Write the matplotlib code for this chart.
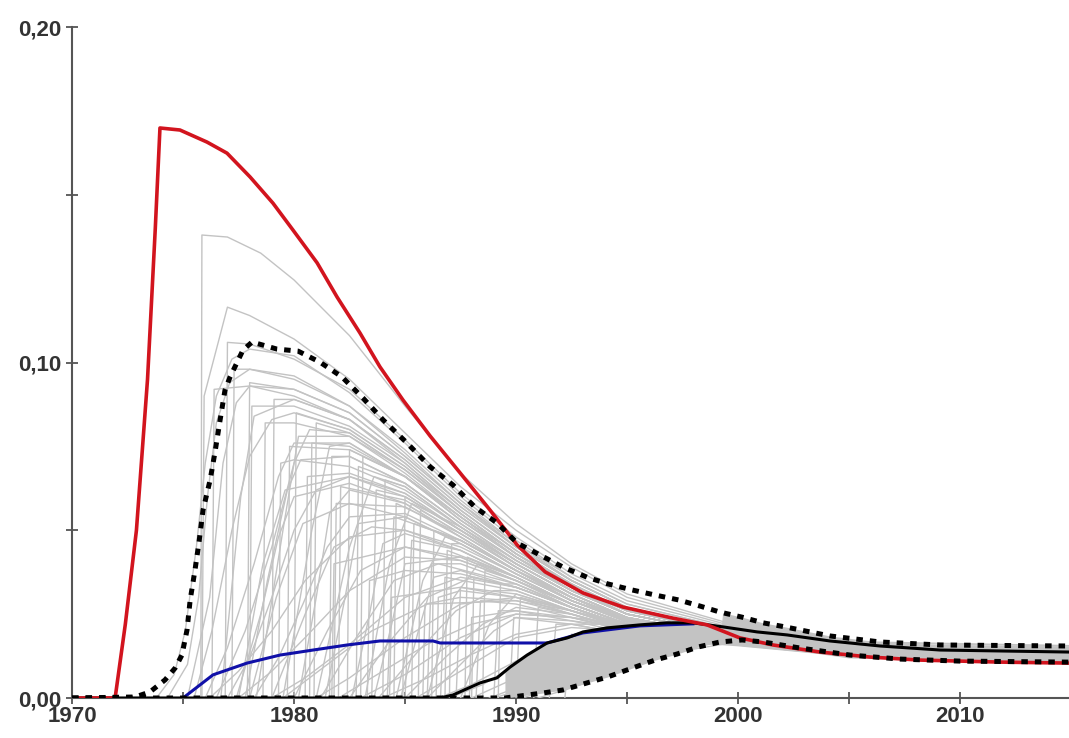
import numpy as np
import matplotlib.pyplot as plt

# red curve (highest scenario)
red_x = [1970.0, 1971.94, 1972.4, 1972.9, 1973.4, 1973.75, 1973.96, 1974.86, 1976.08, 1976.98, 1978.02,
         1979.05, 1979.95, 1981.04, 1981.94, 1982.97, 1983.87, 1984.91, 1986.13, 1987.48, 1988.83,
         1990.05, 1991.31, 1993.02, 1994.82, 1997.07, 1998.6, 2000.09, 2001.58, 2003.69, 2005.95,
         2008.2, 2011.8, 2014.91]
red_y = [0.0, 0.0, 0.022, 0.05, 0.095, 0.14, 0.1699, 0.1693, 0.1657, 0.1624, 0.1553,
         0.1475, 0.1395, 0.1297, 0.1195, 0.1088, 0.0987, 0.0888, 0.0781, 0.0671, 0.056,
         0.0456, 0.0376, 0.0313, 0.0271, 0.0238, 0.0218, 0.0179, 0.0158, 0.0137, 0.0122,
         0.0113, 0.0107, 0.0104]

# upper dashed envelope
up_x = [1970.0, 1972.84, 1973.51, 1974.19, 1974.64, 1974.95, 1975.18, 1975.32, 1975.54, 1975.72,
        1975.9, 1976.22, 1976.44, 1976.67, 1976.89, 1977.12, 1977.7, 1978.11, 1979.23, 1980.18,
        1981.17, 1982.16, 1983.11, 1984.01, 1985.09, 1986.13, 1987.16, 1988.15, 1989.14, 1990.05,
        1992.12, 1993.2, 1994.14, 1995.23, 1996.26, 1997.34, 1998.29, 1999.19, 2000.18, 2001.13,
        2002.12, 2004.14, 2006.4, 2009.1, 2014.91]
up_y = [0.0, 0.0003, 0.0018, 0.0054, 0.0089, 0.0128, 0.0203, 0.0292, 0.0382, 0.0465,
        0.056, 0.065, 0.0733, 0.0829, 0.0918, 0.0957, 0.1037, 0.1061, 0.104, 0.1034,
        0.1001, 0.0957, 0.0894, 0.0829, 0.076, 0.0689, 0.0635, 0.0569, 0.0522, 0.0462,
        0.039, 0.036, 0.034, 0.0322, 0.0307, 0.0292, 0.0274, 0.0256, 0.0241, 0.0224,
        0.0212, 0.0185, 0.0167, 0.0158, 0.0155]

# lower dashed envelope
low_x = [1970.0, 1989.5, 1991.22, 1992.12, 1993.2, 1994.14, 1995.23, 1996.26, 1997.25, 1998.2,
         1999.19, 2000.18, 2001.13, 2002.79, 2005.05, 2007.3, 2010.0, 2014.91]
low_y = [0.0, 0.0, 0.0015, 0.0024, 0.0045, 0.0063, 0.0089, 0.0113, 0.0131, 0.0152,
         0.0167, 0.0173, 0.0167, 0.0149, 0.0128, 0.0116, 0.011, 0.0107]

# black solid curve
blk_x = [1970.0, 1986.58, 1987.16, 1988.38, 1989.14, 1989.73, 1990.5, 1991.4, 1992.3, 1993.02,
         1994.1, 1995.59, 1996.8, 1997.97, 1999.32, 2000.86, 2002.21, 2004.14, 2006.4, 2009.1, 2014.91]
blk_y = [0.0, 0.0, 0.0009, 0.0045, 0.006, 0.0092, 0.0128, 0.0164, 0.0179, 0.0197,
         0.0209, 0.0218, 0.0224, 0.0224, 0.0212, 0.0197, 0.0188, 0.017, 0.0155, 0.0143, 0.0137]

# blue curve
blue_x = [1975.0, 1976.35, 1977.88, 1979.37, 1980.86, 1982.39, 1983.87, 1986.26, 1986.58, 1991.4,
          1993.02, 1995.59, 1997.97]
blue_y = [0.0, 0.0069, 0.0104, 0.0128, 0.0143, 0.0158, 0.017, 0.017, 0.0164, 0.0164,
          0.0194, 0.0215, 0.0221]

# individual runs (grey), each a list of (year, value)
gray_curves = [
    [(1975.8, 0), (1975.85, 0.138), (1977, 0.1374), (1978.5, 0.1326), (1980, 0.1246), (1982.5, 0.108), (1985, 0.087), (1987.5, 0.067), (1990, 0.052), (1992.5, 0.040), (1995, 0.031), (2000, 0.0215), (2005, 0.0168), (2015, 0.0156)],
    [(1975.85, 0), (1975.95, 0.09), (1977.0, 0.1165), (1978, 0.114), (1980, 0.107), (1982.5, 0.095), (1985, 0.079), (1987.5, 0.063), (1990, 0.050), (1992.5, 0.039), (1995, 0.030), (2000, 0.021), (2005, 0.0165), (2015, 0.0155)],
    [(1976.9, 0), (1977.0, 0.106), (1978, 0.1055), (1980, 0.101), (1982.5, 0.092), (1985, 0.077), (1987.5, 0.061), (1990, 0.048), (1992.5, 0.037), (1995, 0.029), (2000, 0.0205), (2005, 0.016), (2015, 0.015)],
    [(1973.8, 0), (1974.6, 0.007), (1975.1, 0.02), (1975.6, 0.045), (1976.0, 0.07), (1976.5, 0.09), (1977.2, 0.101), (1978, 0.104), (1980, 0.102), (1982.5, 0.091), (1985, 0.076), (1987.5, 0.060), (1990, 0.047), (1992.5, 0.036), (1995, 0.028), (2000, 0.020), (2005, 0.0158), (2015, 0.0148)],
    [(1974.3, 0), (1975.2, 0.01), (1975.7, 0.03), (1976.1, 0.06), (1976.5, 0.082), (1977.1, 0.094), (1978, 0.098), (1980, 0.096), (1982.5, 0.087), (1985, 0.073), (1987.5, 0.058), (1990, 0.046), (1992.5, 0.035), (1995, 0.027), (2000, 0.0195), (2005, 0.0155), (2015, 0.0145)],
    [(1975.2, 0), (1976.2, 0.03), (1976.8, 0.07), (1977.4, 0.088), (1978, 0.093), (1980, 0.092), (1982.5, 0.085), (1985, 0.072), (1987.5, 0.058), (1990, 0.045), (1992.5, 0.035), (1995, 0.027), (2000, 0.0195), (2005, 0.0155), (2015, 0.0145)],
    [(1977.2, 0), (1977.3, 0.098), (1978, 0.098), (1980, 0.095), (1982.5, 0.087), (1985, 0.074), (1987.5, 0.059), (1990, 0.046), (1992.5, 0.036), (1995, 0.028), (2000, 0.020), (2005, 0.016), (2015, 0.015)],
    [(1977.9, 0), (1978.0, 0.094), (1980, 0.092), (1982.5, 0.085), (1985, 0.072), (1987.5, 0.058), (1990, 0.045), (1992.5, 0.035), (1995, 0.027), (2000, 0.0195), (2005, 0.0155), (2015, 0.0145)],
    [(1976.7, 0), (1977.6, 0.06), (1978.2, 0.084), (1980, 0.089), (1982.5, 0.083), (1985, 0.070), (1987.5, 0.056), (1990, 0.044), (1992.5, 0.034), (1995, 0.026), (2000, 0.019), (2005, 0.015), (2015, 0.0142)],
    [(1979.0, 0), (1979.1, 0.089), (1980, 0.089), (1982.5, 0.083), (1985, 0.071), (1987.5, 0.057), (1990, 0.045), (1992.5, 0.035), (1995, 0.027), (2000, 0.0195), (2005, 0.0155), (2015, 0.0145)],
    [(1978.3, 0), (1979.5, 0.05), (1980.2, 0.078), (1982.5, 0.078), (1985, 0.067), (1987.5, 0.054), (1990, 0.043), (1992.5, 0.033), (1995, 0.026), (2000, 0.019), (2005, 0.015), (2015, 0.014)],
    [(1980.0, 0), (1980.1, 0.085), (1982.5, 0.080), (1985, 0.069), (1987.5, 0.056), (1990, 0.044), (1992.5, 0.034), (1995, 0.026), (2000, 0.019), (2005, 0.015), (2015, 0.0142)],
    [(1980.9, 0), (1981.0, 0.082), (1982.5, 0.079), (1985, 0.068), (1987.5, 0.055), (1990, 0.043), (1992.5, 0.033), (1995, 0.026), (2000, 0.0188), (2005, 0.015), (2015, 0.014)],
    [(1979.5, 0), (1980.8, 0.05), (1981.6, 0.075), (1982.5, 0.076), (1985, 0.066), (1987.5, 0.053), (1990, 0.042), (1992.5, 0.032), (1995, 0.025), (2000, 0.0185), (2005, 0.0148), (2015, 0.0138)],
    [(1981.6, 0), (1981.7, 0.072), (1982.5, 0.072), (1985, 0.064), (1987.5, 0.052), (1990, 0.041), (1992.5, 0.032), (1995, 0.025), (2000, 0.0185), (2005, 0.0148), (2015, 0.0138)],
    [(1982.4, 0), (1982.5, 0.074), (1985, 0.066), (1987.5, 0.054), (1990, 0.042), (1992.5, 0.033), (1995, 0.025), (2000, 0.0188), (2005, 0.015), (2015, 0.014)],
    [(1982.8, 0), (1982.9, 0.069), (1985, 0.064), (1987.5, 0.052), (1990, 0.041), (1992.5, 0.032), (1995, 0.025), (2000, 0.0185), (2005, 0.0148), (2015, 0.0138)],
    [(1981.0, 0), (1982.5, 0.045), (1983.6, 0.066), (1985, 0.063), (1987.5, 0.051), (1990, 0.040), (1992.5, 0.031), (1995, 0.024), (2000, 0.018), (2005, 0.0145), (2015, 0.0135)],
    [(1984.0, 0), (1984.1, 0.065), (1985, 0.063), (1987.5, 0.051), (1990, 0.040), (1992.5, 0.031), (1995, 0.024), (2000, 0.018), (2005, 0.0145), (2015, 0.0135)],
    [(1984.9, 0), (1985.0, 0.060), (1987.5, 0.050), (1990, 0.039), (1992.5, 0.030), (1995, 0.024), (2000, 0.018), (2005, 0.0145), (2015, 0.0135)],
    [(1983.2, 0), (1984.3, 0.04), (1985.3, 0.058), (1987.5, 0.051), (1990, 0.040), (1992.5, 0.031), (1995, 0.024), (2000, 0.018), (2005, 0.0143), (2015, 0.0133)],
    [(1985.6, 0), (1985.7, 0.056), (1987.5, 0.049), (1990, 0.039), (1992.5, 0.030), (1995, 0.023), (2000, 0.0178), (2005, 0.0143), (2015, 0.0133)],
    [(1986.2, 0), (1986.3, 0.050), (1987.5, 0.047), (1990, 0.038), (1992.5, 0.029), (1995, 0.023), (2000, 0.0175), (2005, 0.014), (2015, 0.013)],
    [(1984.6, 0), (1985.8, 0.035), (1986.8, 0.048), (1987.5, 0.047), (1990, 0.038), (1992.5, 0.029), (1995, 0.023), (2000, 0.0175), (2005, 0.014), (2015, 0.013)],
    [(1987.0, 0), (1987.1, 0.046), (1987.5, 0.046), (1990, 0.037), (1992.5, 0.029), (1995, 0.0225), (2000, 0.0172), (2005, 0.014), (2015, 0.013)],
    [(1987.7, 0), (1987.8, 0.042), (1990, 0.036), (1992.5, 0.028), (1995, 0.022), (2000, 0.017), (2005, 0.0138), (2015, 0.0128)],
    [(1986.0, 0), (1987.2, 0.03), (1988.3, 0.040), (1990, 0.036), (1992.5, 0.028), (1995, 0.022), (2000, 0.017), (2005, 0.0138), (2015, 0.0128)],
    [(1988.5, 0), (1988.6, 0.038), (1990, 0.035), (1992.5, 0.027), (1995, 0.0215), (2000, 0.0168), (2005, 0.0135), (2015, 0.0125)],
    [(1989.2, 0), (1989.3, 0.034), (1990, 0.034), (1992.5, 0.027), (1995, 0.021), (2000, 0.0166), (2005, 0.0133), (2015, 0.0123)],
    [(1987.5, 0), (1988.8, 0.022), (1990, 0.031), (1992.5, 0.026), (1995, 0.021), (2000, 0.0165), (2005, 0.0132), (2015, 0.0122)],
    [(1990.0, 0), (1990.2, 0.030), (1992.5, 0.026), (1995, 0.0205), (2000, 0.0163), (2005, 0.013), (2015, 0.012)],
    [(1990.8, 0), (1991.0, 0.027), (1992.5, 0.025), (1995, 0.020), (2000, 0.016), (2005, 0.0128), (2015, 0.0118)],
    [(1977.5, 0), (1978.6, 0.04), (1979.6, 0.062), (1982.5, 0.066), (1985, 0.060), (1987.5, 0.050), (1990, 0.040), (1992.5, 0.031), (1995, 0.024), (2000, 0.018), (2005, 0.0145), (2015, 0.0135)],
    [(1978.0, 0), (1979.2, 0.03), (1980.4, 0.052), (1982.5, 0.058), (1985, 0.054), (1987.5, 0.046), (1990, 0.037), (1992.5, 0.029), (1995, 0.023), (2000, 0.0175), (2005, 0.014), (2015, 0.013)],
    [(1979.0, 0), (1980.5, 0.025), (1981.8, 0.045), (1983.5, 0.051), (1985, 0.050), (1987.5, 0.044), (1990, 0.036), (1992.5, 0.028), (1995, 0.022), (2000, 0.017), (2005, 0.0138), (2015, 0.0128)],
    [(1980.0, 0), (1981.5, 0.02), (1983, 0.038), (1985, 0.045), (1987.5, 0.042), (1990, 0.035), (1992.5, 0.028), (1995, 0.022), (2000, 0.017), (2005, 0.0136), (2015, 0.0126)],
    [(1981.2, 0), (1982.8, 0.018), (1984.5, 0.035), (1986.5, 0.040), (1990, 0.034), (1992.5, 0.027), (1995, 0.021), (2000, 0.0167), (2005, 0.0134), (2015, 0.0124)],
    [(1982.5, 0), (1984.2, 0.016), (1986, 0.03), (1988, 0.036), (1990, 0.033), (1992.5, 0.027), (1995, 0.021), (2000, 0.0165), (2005, 0.0132), (2015, 0.0122)],
    [(1983.8, 0), (1985.6, 0.014), (1987.3, 0.026), (1989, 0.032), (1990, 0.032), (1992.5, 0.026), (1995, 0.0205), (2000, 0.0163), (2005, 0.013), (2015, 0.012)],
    [(1985.0, 0), (1986.8, 0.012), (1988.5, 0.022), (1990, 0.027), (1992.5, 0.025), (1995, 0.020), (2000, 0.016), (2005, 0.0128), (2015, 0.0118)],
    [(1976.5, 0), (1977.8, 0.02), (1979, 0.045), (1980, 0.070), (1980.7, 0.080), (1982.5, 0.079), (1985, 0.068), (1987.5, 0.055), (1990, 0.043), (1992.5, 0.033), (1995, 0.026), (2000, 0.019), (2005, 0.015), (2015, 0.014)],
    [(1977.8, 0), (1978.8, 0.035), (1979.7, 0.062), (1980.3, 0.071), (1982.5, 0.072), (1985, 0.064), (1987.5, 0.052), (1990, 0.041), (1992.5, 0.032), (1995, 0.025), (2000, 0.0185), (2005, 0.0148), (2015, 0.0138)],
    [(1986.5, 0), (1988, 0.004), (1990, 0.011), (1992.5, 0.017), (1995, 0.020), (1997.5, 0.0205), (2000, 0.019), (2005, 0.0155), (2015, 0.0142)],
    [(1988, 0), (1990, 0.006), (1992.5, 0.012), (1995, 0.016), (1997.5, 0.018), (2000, 0.018), (2005, 0.015), (2015, 0.0135)],
    [(1989, 0), (1991, 0.004), (1993, 0.008), (1995, 0.012), (1997.5, 0.0155), (2000, 0.0172), (2005, 0.013), (2015, 0.011)],
    [(1984, 0), (1986, 0.006), (1988, 0.013), (1990, 0.019), (1992.5, 0.022), (1995, 0.022), (2000, 0.0195), (2005, 0.0158), (2015, 0.0148)],
    [(1982, 0), (1984, 0.008), (1986, 0.016), (1988, 0.022), (1990, 0.025), (1992.5, 0.024), (1995, 0.022), (2000, 0.019), (2005, 0.0152), (2015, 0.0142)],
    [(1979.5, 0), (1981.5, 0.01), (1983.5, 0.02), (1986, 0.028), (1990, 0.029), (1992.5, 0.026), (1995, 0.022), (2000, 0.0178), (2005, 0.0142), (2015, 0.0132)],
    [(1991, 0), (1992.5, 0.003), (1995, 0.009), (1997.5, 0.014), (2000, 0.0168), (2005, 0.012), (2015, 0.0108)],
    [(1986, 0), (1987.5, 0.01), (1989, 0.02), (1990, 0.024), (1992.5, 0.023), (1995, 0.021), (2000, 0.018), (2005, 0.0146), (2015, 0.0135)],
    [(1983.0, 0), (1983.1, 0.072), (1985, 0.066), (1987.5, 0.053), (1990, 0.042), (1992.5, 0.032), (1995, 0.025), (2000, 0.0185), (2005, 0.0148), (2015, 0.0138)],
    [(1984.5, 0), (1984.6, 0.058), (1987.5, 0.049), (1990, 0.039), (1992.5, 0.030), (1995, 0.0235), (2000, 0.0178), (2005, 0.0143), (2015, 0.0133)],
    [(1985.3, 0), (1985.4, 0.052), (1987.5, 0.047), (1990, 0.038), (1992.5, 0.029), (1995, 0.023), (2000, 0.0175), (2005, 0.014), (2015, 0.013)],
    [(1986.8, 0), (1986.9, 0.044), (1990, 0.036), (1992.5, 0.028), (1995, 0.022), (2000, 0.017), (2005, 0.0138), (2015, 0.0128)],
    [(1988.0, 0), (1988.1, 0.036), (1990, 0.033), (1992.5, 0.027), (1995, 0.021), (2000, 0.0166), (2005, 0.0133), (2015, 0.0123)],
    [(1980.5, 0), (1980.6, 0.066), (1982.5, 0.067), (1985, 0.061), (1987.5, 0.050), (1990, 0.040), (1992.5, 0.031), (1995, 0.024), (2000, 0.018), (2005, 0.0145), (2015, 0.0135)],
    [(1979.7, 0), (1979.8, 0.075), (1982.5, 0.074), (1985, 0.066), (1987.5, 0.054), (1990, 0.042), (1992.5, 0.033), (1995, 0.025), (2000, 0.0185), (2005, 0.0148), (2015, 0.0138)],
    [(1976.3, 0), (1976.4, 0.092), (1978, 0.093), (1980, 0.090), (1982.5, 0.083), (1985, 0.071), (1987.5, 0.057), (1990, 0.045), (1992.5, 0.035), (1995, 0.027), (2000, 0.0195), (2005, 0.0155), (2015, 0.0145)],
    [(1978.6, 0), (1978.7, 0.082), (1980, 0.082), (1982.5, 0.078), (1985, 0.068), (1987.5, 0.055), (1990, 0.043), (1992.5, 0.033), (1995, 0.026), (2000, 0.019), (2005, 0.015), (2015, 0.014)],
    [(1981.8, 0), (1981.9, 0.058), (1985, 0.057), (1987.5, 0.048), (1990, 0.038), (1992.5, 0.030), (1995, 0.023), (2000, 0.0175), (2005, 0.014), (2015, 0.013)],
    [(1983.5, 0), (1983.7, 0.062), (1985, 0.060), (1987.5, 0.050), (1990, 0.040), (1992.5, 0.031), (1995, 0.024), (2000, 0.018), (2005, 0.0145), (2015, 0.0135)],
    [(1984.2, 0), (1984.5, 0.054), (1987.5, 0.047), (1990, 0.038), (1992.5, 0.030), (1995, 0.023), (2000, 0.0177), (2005, 0.0142), (2015, 0.0132)],
    [(1985.0, 0), (1985.3, 0.047), (1987.5, 0.044), (1990, 0.036), (1992.5, 0.028), (1995, 0.022), (2000, 0.0172), (2005, 0.014), (2015, 0.013)],
    [(1986.0, 0), (1986.2, 0.040), (1987.5, 0.040), (1990, 0.034), (1992.5, 0.027), (1995, 0.0215), (2000, 0.017), (2005, 0.0137), (2015, 0.0127)],
    [(1986.6, 0), (1986.8, 0.036), (1990, 0.032), (1992.5, 0.026), (1995, 0.021), (2000, 0.0167), (2005, 0.0134), (2015, 0.0124)],
    [(1987.3, 0), (1987.5, 0.033), (1990, 0.030), (1992.5, 0.025), (1995, 0.0205), (2000, 0.0165), (2005, 0.0132), (2015, 0.0122)],
    [(1988.2, 0), (1988.4, 0.029), (1990, 0.028), (1992.5, 0.024), (1995, 0.020), (2000, 0.0163), (2005, 0.013), (2015, 0.012)],
    [(1989.0, 0), (1989.2, 0.026), (1990, 0.026), (1992.5, 0.023), (1995, 0.0195), (2000, 0.016), (2005, 0.0128), (2015, 0.0118)],
    [(1989.7, 0), (1989.9, 0.024), (1992.5, 0.022), (1995, 0.019), (2000, 0.0158), (2005, 0.0126), (2015, 0.0116)],
    [(1991.5, 0), (1991.8, 0.022), (1992.5, 0.022), (1995, 0.019), (2000, 0.0158), (2005, 0.0126), (2015, 0.0116)],
    [(1992.2, 0), (1992.5, 0.019), (1995, 0.018), (2000, 0.0156), (2005, 0.0125), (2015, 0.0115)],
    [(1980.2, 0), (1981.0, 0.03), (1981.6, 0.055), (1982.5, 0.062), (1985, 0.058), (1987.5, 0.048), (1990, 0.038), (1992.5, 0.030), (1995, 0.023), (2000, 0.0176), (2005, 0.0142), (2015, 0.0132)],
    [(1981.4, 0), (1982.3, 0.03), (1982.9, 0.052), (1985, 0.054), (1987.5, 0.046), (1990, 0.037), (1992.5, 0.029), (1995, 0.023), (2000, 0.0174), (2005, 0.014), (2015, 0.013)],
    [(1982.6, 0), (1983.4, 0.025), (1984.0, 0.046), (1985, 0.049), (1987.5, 0.044), (1990, 0.036), (1992.5, 0.028), (1995, 0.022), (2000, 0.0172), (2005, 0.0138), (2015, 0.0128)],
    [(1983.6, 0), (1984.4, 0.022), (1985.0, 0.040), (1987.5, 0.042), (1990, 0.035), (1992.5, 0.028), (1995, 0.022), (2000, 0.017), (2005, 0.0137), (2015, 0.0127)],
    [(1984.8, 0), (1985.6, 0.02), (1986.3, 0.036), (1987.5, 0.038), (1990, 0.033), (1992.5, 0.027), (1995, 0.0215), (2000, 0.0168), (2005, 0.0135), (2015, 0.0125)],
    [(1976.0, 0), (1977.0, 0.015), (1978.2, 0.04), (1979.3, 0.066), (1980, 0.076), (1982.5, 0.076), (1985, 0.066), (1987.5, 0.053), (1990, 0.042), (1992.5, 0.032), (1995, 0.025), (2000, 0.0185), (2005, 0.0148), (2015, 0.0138)],
    [(1977.0, 0), (1978.0, 0.012), (1979.0, 0.03), (1980.0, 0.05), (1981.0, 0.062), (1982.5, 0.066), (1985, 0.061), (1987.5, 0.050), (1990, 0.040), (1992.5, 0.031), (1995, 0.024), (2000, 0.018), (2005, 0.0145), (2015, 0.0135)],
    [(1978.2, 0), (1979.3, 0.012), (1980.4, 0.028), (1981.5, 0.045), (1982.5, 0.054), (1985, 0.055), (1987.5, 0.047), (1990, 0.038), (1992.5, 0.030), (1995, 0.023), (2000, 0.0175), (2005, 0.014), (2015, 0.013)],
    [(1976.2, 0), (1977.5, 0.008), (1979, 0.02), (1980.5, 0.035), (1982.5, 0.048), (1985, 0.050), (1987.5, 0.045), (1990, 0.037), (1992.5, 0.029), (1995, 0.023), (2000, 0.0175), (2005, 0.014), (2015, 0.013)],
    [(1977.5, 0), (1979, 0.008), (1980.5, 0.018), (1982.5, 0.032), (1985, 0.042), (1987.5, 0.041), (1990, 0.035), (1992.5, 0.028), (1995, 0.022), (2000, 0.017), (2005, 0.0137), (2015, 0.0127)],
    [(1979.0, 0), (1980.5, 0.006), (1982.5, 0.016), (1985, 0.030), (1987.5, 0.036), (1990, 0.033), (1992.5, 0.027), (1995, 0.0215), (2000, 0.0168), (2005, 0.0135), (2015, 0.0125)],
    [(1981.0, 0), (1982.5, 0.006), (1985, 0.018), (1987.5, 0.028), (1990, 0.030), (1992.5, 0.026), (1995, 0.021), (2000, 0.0166), (2005, 0.0133), (2015, 0.0123)],
    [(1983.0, 0), (1985, 0.007), (1987.5, 0.018), (1990, 0.025), (1992.5, 0.024), (1995, 0.0205), (2000, 0.0164), (2005, 0.0131), (2015, 0.0121)],
    [(1985.5, 0), (1987.5, 0.008), (1990, 0.018), (1992.5, 0.021), (1995, 0.020), (2000, 0.0166), (2005, 0.0134), (2015, 0.0124)],
    [(1987.0, 0), (1988.5, 0.004), (1990, 0.010), (1992.5, 0.017), (1995, 0.019), (1997.5, 0.019), (2000, 0.0175), (2005, 0.014), (2015, 0.013)],
    [(1988.8, 0), (1990, 0.003), (1992.5, 0.010), (1995, 0.015), (1997.5, 0.0175), (2000, 0.0178), (2005, 0.0145), (2015, 0.0132)],
    [(1990.3, 0), (1992.5, 0.005), (1995, 0.011), (1997.5, 0.0155), (2000, 0.017), (2005, 0.0138), (2015, 0.0122)],
    [(1981.7, 0), (1981.8, 0.040), (1985, 0.045), (1987.5, 0.041), (1990, 0.035), (1992.5, 0.028), (1995, 0.022), (2000, 0.017), (2005, 0.0137), (2015, 0.0127)],
    [(1983.3, 0), (1983.4, 0.035), (1985, 0.038), (1987.5, 0.037), (1990, 0.033), (1992.5, 0.027), (1995, 0.0215), (2000, 0.0168), (2005, 0.0135), (2015, 0.0125)],
    [(1984.3, 0), (1984.4, 0.030), (1987.5, 0.033), (1990, 0.031), (1992.5, 0.026), (1995, 0.021), (2000, 0.0166), (2005, 0.0133), (2015, 0.0123)],
    [(1985.8, 0), (1985.9, 0.028), (1987.5, 0.030), (1990, 0.029), (1992.5, 0.025), (1995, 0.0205), (2000, 0.0164), (2005, 0.0131), (2015, 0.0121)],
    [(1987.9, 0), (1988.0, 0.024), (1990, 0.026), (1992.5, 0.024), (1995, 0.020), (2000, 0.0162), (2005, 0.013), (2015, 0.012)],
    [(1979.3, 0), (1979.4, 0.070), (1980, 0.071), (1982.5, 0.069), (1985, 0.062), (1987.5, 0.051), (1990, 0.041), (1992.5, 0.032), (1995, 0.025), (2000, 0.0183), (2005, 0.0146), (2015, 0.0136)],
    [(1980.7, 0), (1980.8, 0.076), (1982.5, 0.075), (1985, 0.066), (1987.5, 0.054), (1990, 0.042), (1992.5, 0.033), (1995, 0.025), (2000, 0.0185), (2005, 0.0148), (2015, 0.0138)],
    [(1978.0, 0), (1978.1, 0.087), (1980, 0.087), (1982.5, 0.081), (1985, 0.070), (1987.5, 0.056), (1990, 0.044), (1992.5, 0.034), (1995, 0.026), (2000, 0.019), (2005, 0.0152), (2015, 0.0142)],
    [(1982.0, 0), (1982.1, 0.063), (1985, 0.059), (1987.5, 0.049), (1990, 0.039), (1992.5, 0.030), (1995, 0.0235), (2000, 0.0178), (2005, 0.0143), (2015, 0.0133)],
    [(1986.4, 0), (1986.5, 0.030), (1987.5, 0.032), (1990, 0.030), (1992.5, 0.025), (1995, 0.0205), (2000, 0.0165), (2005, 0.0132), (2015, 0.0122)],
    [(1975.5, 0), (1976.3, 0.02), (1977.2, 0.05), (1978, 0.072), (1979, 0.083), (1980, 0.085), (1982.5, 0.080), (1985, 0.069), (1987.5, 0.055), (1990, 0.043), (1992.5, 0.034), (1995, 0.026), (2000, 0.019), (2005, 0.015), (2015, 0.014)],
    [(1977.4, 0), (1978.5, 0.025), (1979.3, 0.048), (1980, 0.060), (1982.5, 0.064), (1985, 0.058), (1987.5, 0.048), (1990, 0.038), (1992.5, 0.030), (1995, 0.023), (2000, 0.0175), (2005, 0.014), (2015, 0.013)],
]

y_ticks = [0.0, 0.05, 0.10, 0.15, 0.20]
y_labels = ['0,00', '', '0,10', '', '0,20']
x_ticks = [1970, 1975, 1980, 1985, 1990, 1995, 2000, 2005, 2010]
x_labels = ['1970', '', '1980', '', '1990', '', '2000', '', '2010']

plt.rcParams['font.family'] = ['Liberation Sans', 'DejaVu Sans']

fig = plt.figure(figsize=(10.69, 7.38), dpi=100)
ax = fig.add_axes([0.0674, 0.0542, 0.9326, 0.9092])

grey = '#c3c3c3'
for c in gray_curves:
    xs, ys = zip(*c)
    ax.plot(xs, ys, color=grey, lw=1.0, zorder=2)

# dense band between the envelopes
xf = np.linspace(1989.5, 2014.91, 400)
bottom = np.interp(xf, low_x, low_y)
top = np.where(xf < 1999.3, np.interp(xf, blk_x, blk_y), np.interp(xf, up_x, up_y))
ax.fill_between(xf, bottom, np.maximum(top, bottom), color=grey, lw=0, zorder=2)

ax.plot(blue_x, blue_y, color='#1010a8', lw=2.2, zorder=4)
ax.plot(blk_x, blk_y, color='black', lw=2.2, zorder=5)
ax.plot(red_x, red_y, color='#d2141e', lw=2.6, zorder=6)
ax.plot(up_x, up_y, color='black', lw=3.6, linestyle=(0, (1.3, 1.4)), zorder=7)
ax.plot(low_x, low_y, color='black', lw=3.6, linestyle=(0, (1.3, 1.4)), zorder=7)

ax.set_xlim(1970, 2014.91)
ax.set_ylim(0, 0.2)
for s in ['top', 'right']:
    ax.spines[s].set_visible(False)
for s in ['left', 'bottom']:
    ax.spines[s].set_color('#555555')
    ax.spines[s].set_linewidth(1.5)
ax.spines['bottom'].set_zorder(1)

ax.set_yticks(y_ticks)
ax.set_yticklabels(y_labels)
ax.set_xticks(x_ticks)
ax.set_xticklabels(x_labels)
ax.tick_params(axis='both', direction='inout', length=9, width=1.3, color='#555555',
               labelsize=16, labelcolor='#333333')
ax.tick_params(axis='y', pad=3)
ax.tick_params(axis='x', pad=1)
for lab in ax.get_xticklabels() + ax.get_yticklabels():
    lab.set_fontweight('bold')

fig.savefig('out.png', dpi=100)
